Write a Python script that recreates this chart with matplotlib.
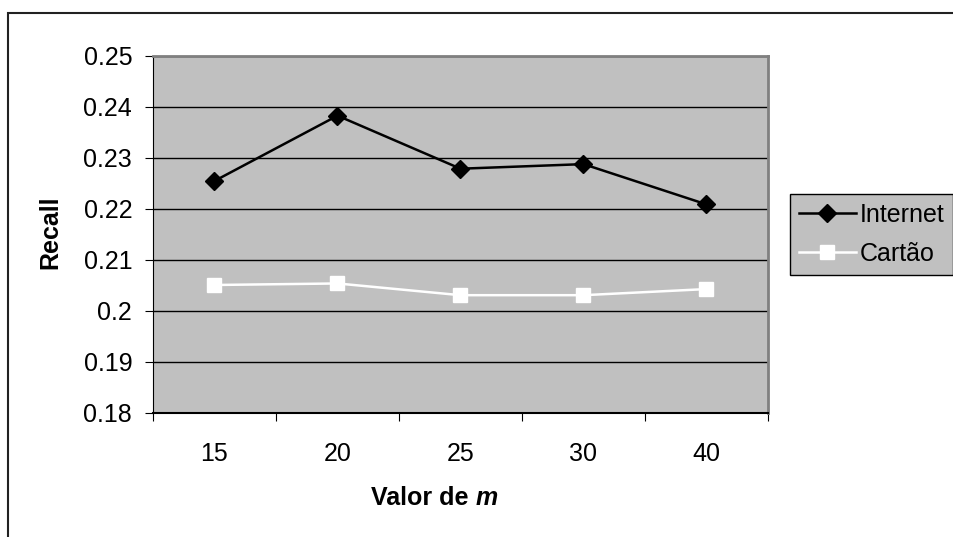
import matplotlib
matplotlib.use("Agg")
import matplotlib.pyplot as plt
from matplotlib.patches import Rectangle

plt.rcParams['font.family'] = ['Liberation Sans', 'DejaVu Sans']

# data
m_labels = ['15', '20', '25', '30', '40']
internet = [0.2255, 0.2383, 0.2279, 0.2288, 0.2209]
cartao = [0.2051, 0.2054, 0.2031, 0.2031, 0.2043]
y_ticks = [0.18, 0.19, 0.2, 0.21, 0.22, 0.23, 0.24, 0.25]

FS = 18
W, H = 954, 537
fig = plt.figure(figsize=(W / 100, H / 100), dpi=100)
ax = fig.add_axes([153 / W, 1 - 413 / H, (768 - 153) / W, (413 - 56) / H])
ax.set_facecolor('#c0c0c0')

# outer frame of the chart object (right and bottom edges fall outside)
fig.patches.append(Rectangle((8 / W, -0.05), 1.1, 1 - 13 / H + 0.05,
                             transform=fig.transFigure, fill=False,
                             edgecolor='#222222', linewidth=1.5))

x = list(range(len(m_labels)))
ax.plot(x, internet, color='black', lw=1.8, marker='D', markersize=9,
        markerfacecolor='black', markeredgecolor='black', label='Internet')
ax.plot(x, cartao, color='white', lw=1.8, marker='s', markersize=10.5,
        markerfacecolor='white', markeredgecolor='white', label='Cartão')

ax.set_xlim(-0.5, len(m_labels) - 0.5)
ax.set_ylim(0.18, 0.25)
ax.set_yticks(y_ticks)
ax.set_yticklabels(['%g' % v for v in y_ticks])
ax.yaxis.grid(True, color='black', lw=1)
ax.set_axisbelow(True)

ax.set_xticks([i - 0.5 for i in range(len(m_labels) + 1)])
ax.set_xticklabels([])
ax.set_xticks(x, minor=True)
ax.set_xticklabels(m_labels, minor=True)
ax.tick_params(axis='x', which='minor', length=0, pad=21, labelsize=FS)
ax.tick_params(axis='x', which='major', direction='out', length=6, width=0.8)
ax.tick_params(axis='y', direction='out', length=6, width=0.8, labelsize=FS, pad=9)

for side in ['top', 'right']:
    ax.spines[side].set_color('#808080')
    ax.spines[side].set_linewidth(2)
ax.spines['left'].set_color('black')
ax.spines['bottom'].set_color('black')
ax.spines['bottom'].set_linewidth(1.5)

fig.text(50 / W, 1 - 232 / H, 'Recall', rotation=90, ha='center', va='center',
         fontsize=FS, fontweight='bold')
cx = 0.5 * (153 + 768) / W
fig.text(cx + 15 / W, 1 - 498 / H, 'Valor de ', ha='right', va='center',
         fontsize=FS, fontweight='bold')
fig.text(cx + 15 / W, 1 - 498 / H, 'm', ha='left', va='center',
         fontsize=FS, fontweight='bold', style='italic')

leg = ax.legend(loc='upper left', bbox_to_anchor=(790 / W, 1 - 194 / H),
                bbox_transform=fig.transFigure, frameon=True, fancybox=False,
                fontsize=FS, handlelength=2.3, handletextpad=0.15,
                borderpad=0.35, labelspacing=0.6, borderaxespad=0)
leg.get_frame().set_facecolor('#c0c0c0')
leg.get_frame().set_edgecolor('black')
leg.get_frame().set_alpha(1)

fig.savefig('out.png', dpi=100)
